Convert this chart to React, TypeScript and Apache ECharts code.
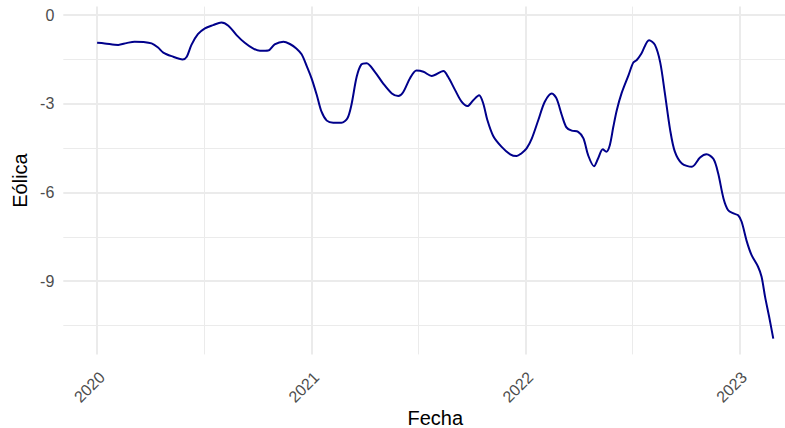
import React, { useEffect, useRef } from "react";
import * as echarts from "echarts";

const dates = [
  "2020-01-01","2020-01-14","2020-02-06","2020-02-20","2020-03-05","2020-03-20","2020-04-03","2020-04-14",
  "2020-04-23","2020-05-07","2020-05-26","2020-06-02","2020-06-10","2020-06-21","2020-07-03","2020-07-17",
  "2020-07-31","2020-08-12","2020-08-26","2020-09-09","2020-09-23","2020-10-05","2020-10-19","2020-10-30",
  "2020-11-14","2020-11-25","2020-12-06","2020-12-15","2020-12-23","2021-01-01","2021-01-10","2021-01-18",
  "2021-01-27","2021-02-07","2021-02-21","2021-03-03","2021-03-10","2021-03-19","2021-03-27","2021-04-05",
  "2021-04-19","2021-05-03","2021-05-18","2021-05-29","2021-06-06","2021-06-18","2021-06-29","2021-07-11",
  "2021-07-25","2021-08-14","2021-08-22","2021-09-03","2021-09-14","2021-09-24","2021-10-04","2021-10-14",
  "2021-10-21","2021-10-28","2021-11-07","2021-11-21","2021-12-06","2021-12-17","2021-12-25","2022-01-03",
  "2022-01-12","2022-01-23","2022-02-03","2022-02-15","2022-02-23","2022-03-04","2022-03-12","2022-03-21",
  "2022-04-01","2022-04-10","2022-04-18","2022-04-28","2022-05-05","2022-05-13","2022-05-19","2022-05-25",
  "2022-05-31","2022-06-06","2022-06-14","2022-06-26","2022-07-04","2022-07-10","2022-07-18","2022-07-31",
  "2022-08-10","2022-08-19","2022-08-27","2022-09-05","2022-09-13","2022-09-25","2022-10-12","2022-10-26",
  "2022-11-06","2022-11-18","2022-11-26","2022-12-05","2022-12-13","2022-12-22","2022-12-30","2023-01-05",
  "2023-01-14","2023-01-22","2023-02-02","2023-02-08","2023-02-14","2023-02-21","2023-02-28"
];

const eolica = [
  -0.94,-0.96,-1.01,-0.95,-0.90,-0.91,-0.96,-1.10,
  -1.27,-1.39,-1.50,-1.41,-1.01,-0.65,-0.45,-0.34,
  -0.25,-0.36,-0.68,-0.94,-1.13,-1.21,-1.20,-0.99,
  -0.90,-0.98,-1.13,-1.33,-1.69,-2.14,-2.71,-3.27,
  -3.57,-3.64,-3.64,-3.50,-3.04,-2.09,-1.67,-1.63,
  -1.92,-2.31,-2.65,-2.74,-2.62,-2.14,-1.88,-1.92,
  -2.06,-1.89,-2.09,-2.54,-2.93,-3.08,-2.88,-2.71,
  -2.99,-3.55,-4.09,-4.45,-4.71,-4.77,-4.68,-4.51,
  -4.17,-3.55,-2.93,-2.65,-2.82,-3.38,-3.80,-3.91,
  -3.95,-4.17,-4.74,-5.11,-4.85,-4.54,-4.62,-4.40,
  -3.78,-3.21,-2.65,-2.03,-1.61,-1.52,-1.30,-0.85,
  -1.01,-1.60,-2.65,-3.89,-4.62,-5.02,-5.13,-4.82,
  -4.71,-4.87,-5.36,-6.20,-6.60,-6.71,-6.77,-6.99,
  -7.67,-8.12,-8.51,-8.85,-9.53,-10.21,-10.94
];

const yearTicks = ["2020-01-01", "2021-01-01", "2022-01-01", "2023-01-01"];
const yMajorTicks = [0, -3, -6, -9];
const yMinorTicks = [-1.5, -4.5, -7.5, -10.5];

const FONT = "'Liberation Sans', Arial, Helvetica, sans-serif";

export default function App() {
  const ref = useRef<HTMLDivElement>(null);

  useEffect(() => {
    if (!ref.current) return;
    const chart = echarts.init(ref.current, undefined, { renderer: "svg" });

    const data = dates.map((d, i) => [Date.parse(d), eolica[i]]);
    const t0 = Date.parse(dates[0]);
    const tN = Date.parse(dates[dates.length - 1]);
    const xSpan = tN - t0;
    // ggplot-like 5% expansion; the panel's right part is cropped by the picture edge
    const panelLeft = 63.3;
    const panelRightFull = 807.1;
    const visibleRight = 785;
    const xMin = t0 - 0.05 * xSpan;
    const xMaxFull = tN + 0.05 * xSpan;
    const xMax =
      xMin + ((xMaxFull - xMin) * (visibleRight - panelLeft)) / (panelRightFull - panelLeft);
    const vMin = Math.min(...eolica);
    const vMax = Math.max(...eolica);
    const ySpan = vMax - vMin;
    const yMin = vMin - 0.05 * ySpan;
    const yMax = vMax + 0.05 * ySpan;

    const majorX = yearTicks.map((d) => Date.parse(d));
    const minorX: number[] = [];
    for (let i = 0; i < majorX.length - 1; i++) minorX.push((majorX[i] + majorX[i + 1]) / 2);

    const gridColor = "#EBEBEB";

    chart.setOption({
      animation: false,
      backgroundColor: "#ffffff",
      grid: {
        left: panelLeft,
        right: 0,
        top: 6.6,
        bottom: 73.6,
        containLabel: false,
        outerBoundsMode: "none",
      },
      xAxis: [
        {
          type: "value",
          min: xMin,
          max: xMax,
          name: "Fecha",
          nameLocation: "middle",
          nameGap: 54,
          nameMoveOverlap: false,
          nameTextStyle: {
            color: "#000000",
            fontSize: 20,
            fontFamily: FONT,
            padding: [0, 0, 0, panelRightFull - visibleRight],
          },
          axisLine: { show: false },
          axisTick: { show: false, customValues: majorX },
          splitLine: { show: true, lineStyle: { color: gridColor, width: 2 } },
          axisLabel: {
            customValues: majorX,
            rotate: 45,
            margin: 25,
            padding: [0, -7, 0, 0],
            color: "#4D4D4D",
            fontSize: 16,
            fontFamily: FONT,
            formatter: (v: number) => String(new Date(v).getUTCFullYear()),
          },
        },
        {
          type: "value",
          min: xMin,
          max: xMax,
          position: "bottom",
          axisLine: { show: false },
          axisTick: { show: false, customValues: minorX },
          axisLabel: { show: false, customValues: minorX },
          splitLine: { show: true, lineStyle: { color: gridColor, width: 1 } },
        },
      ],
      yAxis: [
        {
          type: "value",
          min: yMin,
          max: yMax,
          name: "Eólica",
          nameLocation: "middle",
          nameGap: 33,
          nameMoveOverlap: false,
          nameTextStyle: { color: "#000000", fontSize: 20, fontFamily: FONT },
          axisLine: { show: false },
          axisTick: { show: false, customValues: yMajorTicks },
          splitLine: { show: true, lineStyle: { color: gridColor, width: 2 } },
          axisLabel: {
            customValues: yMajorTicks,
            margin: 9,
            color: "#4D4D4D",
            fontSize: 16,
            fontFamily: FONT,
          },
        },
        {
          type: "value",
          min: yMin,
          max: yMax,
          position: "left",
          axisLine: { show: false },
          axisTick: { show: false, customValues: yMinorTicks },
          axisLabel: { show: false, customValues: yMinorTicks },
          splitLine: { show: true, lineStyle: { color: gridColor, width: 1 } },
        },
      ],
      series: [
        {
          type: "line",
          xAxisIndex: 0,
          yAxisIndex: 0,
          data,
          showSymbol: false,
          smooth: 0.3,
          z: 10,
          lineStyle: { color: "#00008B", width: 2 },
          silent: true,
        },
      ],
    });

    return () => chart.dispose();
  }, []);

  return (
    <div
      ref={ref}
      style={{ position: "fixed", left: 0, top: 0, width: 785, height: 428 }}
    />
  );
}
